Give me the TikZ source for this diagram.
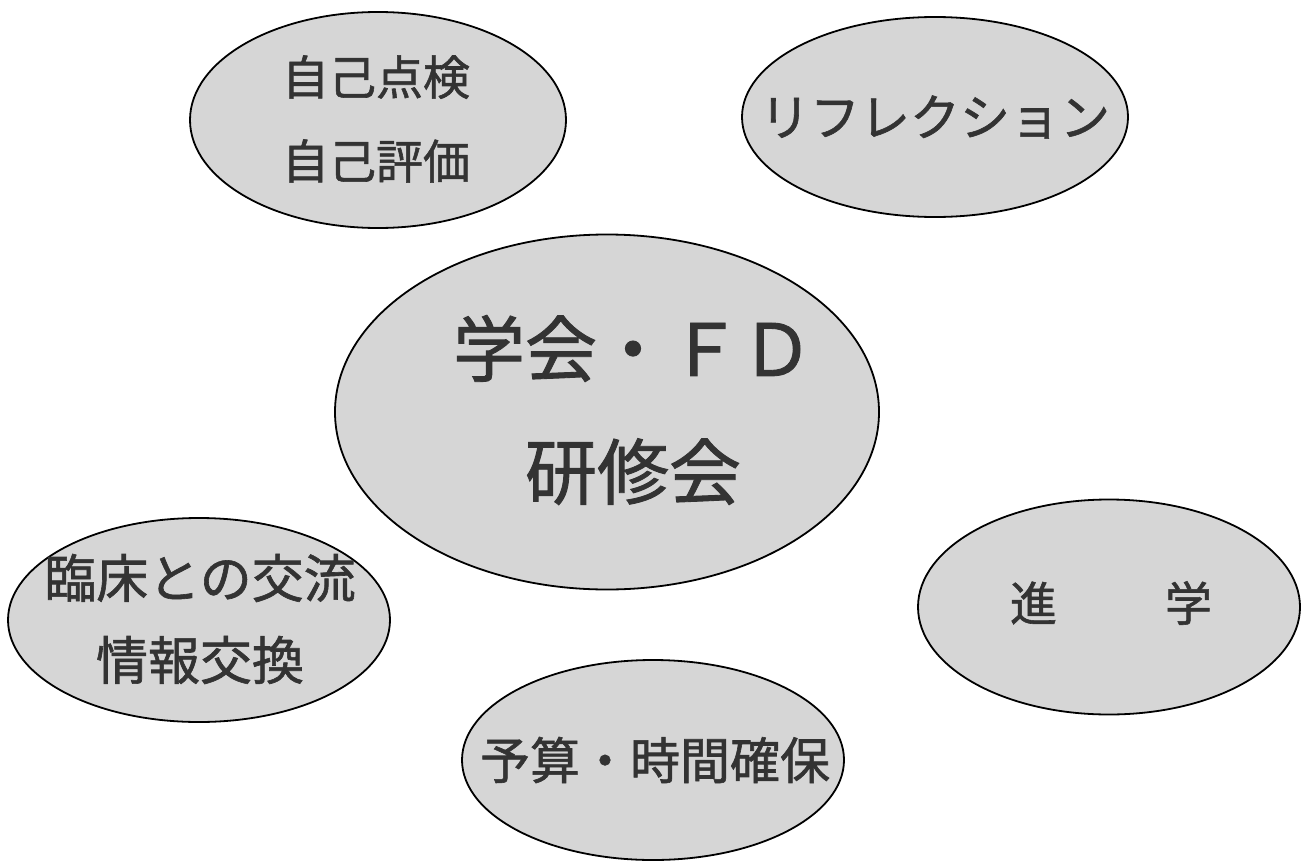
\documentclass[tikz,border=0pt]{standalone}
\usepackage{fontspec}
\setmainfont{Noto Sans CJK JP}[FakeBold=1.2]
\usetikzlibrary{shapes.geometric}
\definecolor{blobfill}{HTML}{D6D6D6}
\definecolor{inkc}{HTML}{333333}
\tikzset{
  blob/.style={ellipse, draw=black, line width=1.8pt, fill=blobfill, inner sep=0pt},
  lbl/.style={text=inkc, align=center, inner sep=0pt},
}
\begin{document}
\begin{tikzpicture}[x=1pt,y=-1pt]
\useasboundingbox (0,0) rectangle (1311,862);
\node[blob, minimum width=376pt, minimum height=216pt] (e1) at (378,120) {};
\node[blob, minimum width=386pt, minimum height=200pt] (e2) at (935,117) {};
\node[blob, minimum width=544pt, minimum height=355pt] (e3) at (607,412) {};
\node[blob, minimum width=382pt, minimum height=204pt] (e4) at (199,620) {};
\node[blob, minimum width=382pt, minimum height=215pt] (e5) at (1109,607) {};
\node[blob, minimum width=382pt, minimum height=200pt] (e6) at (653,760) {};
\node[lbl, font={\fontsize{47pt}{84pt}\selectfont}] (t1) at (376,119) {自己点検\\自己評価};
\node[lbl, font={\fontsize{50pt}{60pt}\selectfont}] (t2) at (e2) {リフレクション};
\node[lbl, font={\fontsize{72pt}{123pt}\selectfont}] (t3) at (633,410) {学会・ＦＤ\\研修会};
\node[lbl, font={\fontsize{52pt}{82pt}\selectfont}] (t4) at (200,619) {臨床との交流\\情報交換};
\node[lbl, font={\fontsize{47pt}{60pt}\selectfont}] (t5) at (1111,603) {進\hspace{108pt}学};
\node[lbl, font={\fontsize{50pt}{60pt}\selectfont}] (t6) at (655,760) {予算・時間確保};
\end{tikzpicture}
\end{document}
